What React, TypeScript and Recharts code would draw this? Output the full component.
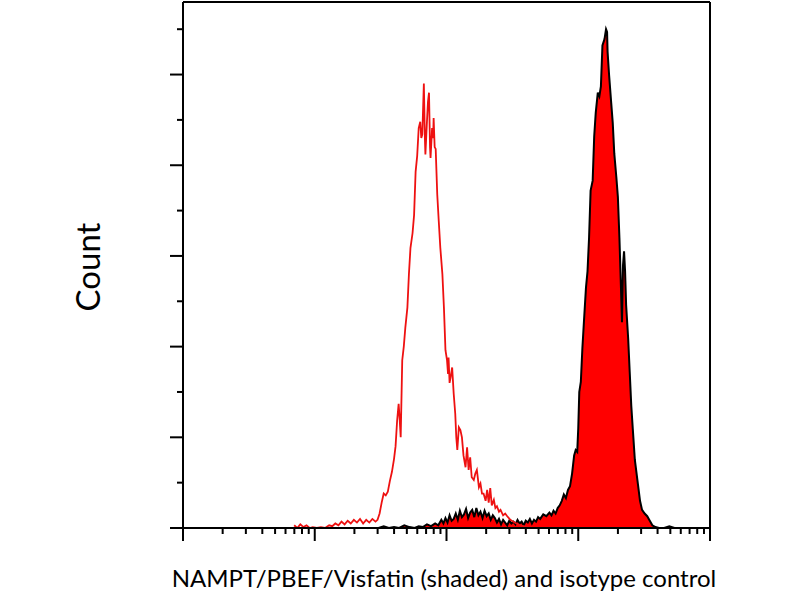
import React from 'react';
import { ComposedChart, Area, Line, XAxis, YAxis, ReferenceLine, Label } from 'recharts';

// flow histogram: 1024 channels over 4 log decades (256 channels per decade)
const CHANNELS_PER_DECADE = 256;
const DECADES = [1, 10, 100, 1000, 10000];
const MINOR_STEPS = [2, 3, 4, 5, 6, 7, 8, 9];
const COUNT_TICKS = [0, 50, 100, 150, 200, 250, 300, 350, 400, 450, 500, 550];

// isotype control (red outline)
const isoChannel = [
  216, 222, 228, 234, 240, 246, 252, 260, 268, 276,
  284, 290, 296, 302, 308, 314, 320, 326, 332, 338,
  344, 350, 356, 362, 368, 374, 378, 382, 386, 390,
  394, 398, 402, 406, 410, 413, 416, 419, 421, 423,
  426, 429, 432, 436, 439, 442, 446, 449, 452, 455,
  458, 461, 463, 465, 468, 470, 471, 474, 476, 478,
  480, 481, 484, 486, 487, 489, 491, 494, 497, 500,
  504, 507, 510, 513, 515, 516, 518, 520, 523, 526,
  529, 531, 533, 536, 539, 542, 545, 549, 552, 555,
  558, 561, 565, 568, 571, 575, 578, 581, 584, 588,
  591, 594, 597, 600, 604, 607, 610, 614, 617, 622,
  626, 630, 636, 642, 648, 655, 662, 668, 680,
];
const isoCount = [
  3, 0, 4, 1, 3, 0, 1, 0, 1, 0,
  3, 2, 5, 3, 7, 4, 8, 5, 9, 6,
  10, 5, 9, 6, 10, 7, 9, 16, 28, 38,
  36, 40, 52, 62, 76, 90, 118, 137, 120, 100,
  185, 200, 221, 243, 280, 309, 325, 345, 393, 410,
  441, 448, 430, 434, 490, 430, 412, 448, 470, 480,
  420, 408, 441, 430, 452, 420, 418, 368, 338, 309,
  280, 243, 196, 185, 170, 188, 160, 166, 177, 148,
  126, 100, 86, 111, 108, 100, 80, 67, 89, 64,
  78, 56, 53, 60, 64, 45, 49, 38, 38, 30,
  42, 28, 44, 25, 31, 22, 24, 18, 20, 14,
  16, 13, 9, 7, 5, 3, 2, 1, 0,
];

// NAMPT/PBEF/Visfatin (shaded)
const namptChannel = [
  380, 390, 400, 410, 420, 430, 440, 450, 458, 466,
  474, 482, 490, 496, 502, 506, 510, 514, 518, 522,
  526, 530, 534, 538, 542, 546, 550, 554, 558, 562,
  566, 570, 574, 578, 582, 586, 590, 594, 598, 602,
  606, 610, 614, 618, 622, 626, 630, 634, 638, 642,
  646, 650, 654, 658, 662, 666, 670, 674, 678, 682,
  686, 690, 694, 700, 706, 712, 716, 720, 724, 728,
  732, 736, 740, 744, 748, 752, 756, 760, 763, 766,
  768, 770, 773, 776, 779, 783, 786, 789, 792, 796,
  799, 802, 806, 809, 812, 815, 819, 822, 824, 825,
  828, 832, 835, 838, 842, 845, 848, 851, 853, 855,
  857, 859, 861, 865, 868, 871, 874, 878, 884, 888,
  892, 897, 902, 907, 912, 918, 925, 935, 945, 955,
  970,
];
const namptCount = [
  0, 2, 0, 1, 0, 3, 1, 0, 2, 1,
  4, 2, 5, 3, 9, 5, 11, 6, 14, 8,
  10, 16, 9, 19, 12, 15, 21, 11, 17, 20,
  12, 22, 14, 18, 11, 19, 13, 16, 9, 14,
  11, 6, 10, 4, 9, 6, 3, 8, 5, 7,
  4, 9, 5, 7, 3, 8, 6, 10, 5, 9,
  7, 12, 10, 15, 13, 17, 14, 19, 16, 22,
  25, 30, 37, 33, 42, 46, 60, 80, 86, 84,
  110, 150, 161, 198, 227, 265, 283, 320, 372, 383,
  432, 458, 480, 476, 487, 532, 539, 550, 547, 525,
  499, 469, 447, 413, 387, 365, 320, 265, 227, 290,
  305, 283, 246, 209, 172, 135, 109, 75, 48, 30,
  20, 16, 13, 8, 3, 1, 0, 0, 2, 0,
  0,
];

const isoData = isoChannel.map((ch, i) => ({ ch, count: isoCount[i] }));
const namptData = namptChannel.map((ch, i) => ({ ch, count: namptCount[i] }));

const MAX_CHANNEL = 1024;
const MAX_COUNT = 580;

const majorChannels = DECADES.map((d) => CHANNELS_PER_DECADE * Math.log10(d));
const channelTicks = [
  ...majorChannels,
  ...DECADES.slice(0, -1).flatMap((d) => MINOR_STEPS.map((m) => CHANNELS_PER_DECADE * Math.log10(d * m))),
];

const FONT = 'Lato, "Open Sans", sans-serif';

const XTick = ({ x, y, payload }: any) => {
  const major = majorChannels.some((c) => Math.abs(c - payload.value) < 0.01);
  return <line x1={x} x2={x} y1={y} y2={y + (major ? 13 : 6)} stroke="#000" strokeWidth={2} />;
};

const YTick = ({ x, y, payload }: any) => {
  const major = payload.value % 100 === 0;
  return <line x1={x} x2={x - (major ? 13 : 6)} y1={y} y2={y} stroke="#000" strokeWidth={2} />;
};

export default function App() {
  return (
    <div style={{ position: 'absolute', left: 0, top: 0, width: 800, height: 600, background: '#fff' }}>
      <ComposedChart width={800} height={600} margin={{ top: 2, right: 90, bottom: 52, left: 163 }}>
        <XAxis
          type="number"
          dataKey="ch"
          domain={[0, MAX_CHANNEL]}
          ticks={channelTicks}
          interval={0}
          allowDataOverflow
          height={20}
          tickSize={0}
          tickMargin={0}
          tickLine={false}
          tick={<XTick />}
          axisLine={{ stroke: '#000', strokeWidth: 2 }}
        >
          <Label
            content={() => (
              <text x={444} y={587} textAnchor="middle" fontFamily={FONT} fontSize={24} fill="#000">
                NAMPT/PBEF/Visfatin (shaded) and isotype control
              </text>
            )}
          />
        </XAxis>
        <YAxis
          type="number"
          domain={[0, MAX_COUNT]}
          ticks={COUNT_TICKS}
          interval={0}
          allowDataOverflow
          width={20}
          tickSize={0}
          tickMargin={0}
          tickLine={false}
          tick={<YTick />}
          axisLine={{ stroke: '#000', strokeWidth: 2 }}
        >
          <Label
            content={() => (
              <text
                x={-267}
                y={100}
                transform="rotate(-90)"
                textAnchor="middle"
                fontFamily={FONT}
                fontSize={33}
                fill="#000"
              >
                Count
              </text>
            )}
          />
        </YAxis>
        <ReferenceLine y={MAX_COUNT} stroke="#000" strokeWidth={2} />
        <ReferenceLine x={MAX_CHANNEL} stroke="#000" strokeWidth={2} />
        <Area
          data={namptData}
          dataKey="count"
          type="linear"
          stroke="#000"
          strokeWidth={2}
          fill="#ff0000"
          fillOpacity={1}
          dot={false}
          activeDot={false}
          isAnimationActive={false}
        />
        <Line
          data={isoData}
          dataKey="count"
          type="linear"
          stroke="#ee1111"
          strokeWidth={1.8}
          dot={false}
          activeDot={false}
          isAnimationActive={false}
        />
      </ComposedChart>
    </div>
  );
}
